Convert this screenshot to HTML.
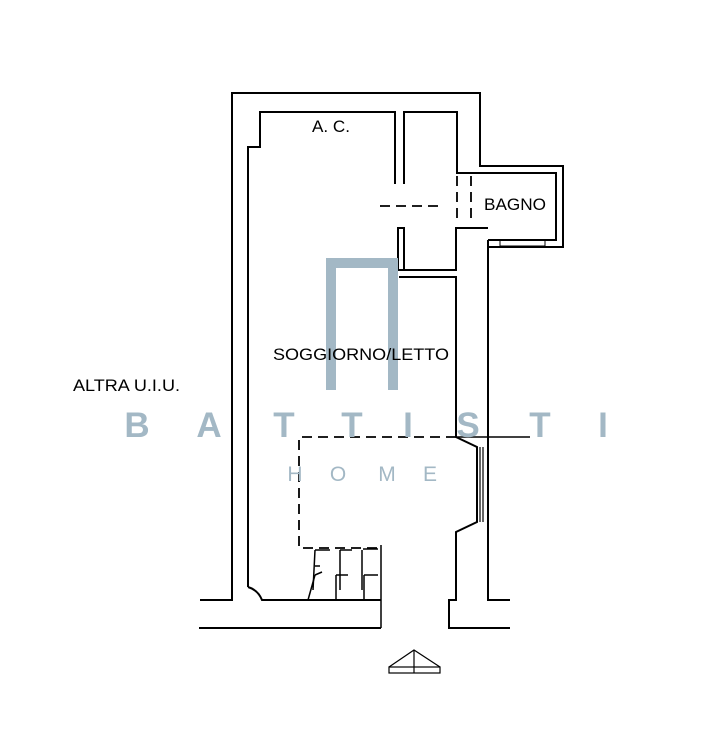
<!DOCTYPE html>
<html><head><meta charset="utf-8"><style>
html,body{margin:0;padding:0;background:#fff;width:722px;height:738px;overflow:hidden}
svg{display:block}
text{font-family:"Liberation Sans",sans-serif}
</style></head><body>
<svg width="722" height="738" viewBox="0 0 722 738" xmlns="http://www.w3.org/2000/svg">
<g fill="none" stroke="#000" stroke-width="2">
<polyline points="200,600 232,600 232,93 480,93 480,166 563,166 563,247 488,247 488,600 510,600"/>
<polyline points="395,184 395,112 260,112 260,147 248,147 248,587"/>
<path d="M248,587 Q258,590 262,600 L381,600"/>
<polyline points="404,184 404,112 457,112 457,173 556,173 556,240 488,240"/>
<polyline points="488,228 456,228 456,270 398,270 398,228 404,228 404,270"/>
<polyline points="399,277 456,277 456,437 477,447 477,522 456,532 456,600 449,600 449,628 510,628"/>
<line x1="480" y1="447" x2="480" y2="522" stroke-width="1.2"/>
<line x1="483" y1="447" x2="483" y2="522" stroke-width="1.2"/>
<line x1="488" y1="240" x2="488" y2="248"/>
<line x1="456" y1="437" x2="530" y2="437" stroke-width="1.5"/>
<line x1="199" y1="628" x2="381" y2="628"/>
<line x1="381" y1="545" x2="381" y2="628" stroke-width="1.5"/>
<rect x="500" y="240" width="45" height="6" stroke-width="1"/>
<g stroke-dasharray="10,6" stroke-width="1.8">
<line x1="380" y1="206" x2="440" y2="206"/>
<line x1="457" y1="176" x2="457" y2="224"/>
<line x1="471" y1="176" x2="471" y2="224"/>
<polyline points="456,437 299,437 299,548 381,548"/>
</g>
<g stroke-width="1.5">
<polyline points="313,590 315,550"/>
<polyline points="340,590 340,550"/>
<polyline points="362,590 362,550"/>
<polyline points="315,566 320,566"/>
<line x1="308" y1="600" x2="315" y2="575"/>
<line x1="315" y1="575" x2="322" y2="572"/>
<line x1="336" y1="600" x2="336" y2="575"/>
<line x1="336" y1="575" x2="348" y2="575"/>
<line x1="364" y1="600" x2="364" y2="575"/>
<line x1="364" y1="575" x2="378" y2="575"/>
<line x1="363" y1="549" x2="378" y2="549"/>
<line x1="340" y1="550" x2="352" y2="550"/>
<line x1="315" y1="550" x2="330" y2="550"/>
</g>
<g stroke-width="1.2">
<polyline points="389,667 414,650 440,667"/>
<line x1="414" y1="650" x2="414" y2="673"/>
<rect x="389" y="667" width="51" height="6"/>
</g>
</g>
<g fill="none" stroke="#a3b8c5" stroke-width="10">
<polyline points="331,390 331,263 393,263 393,390"/>
</g>
<g fill="#a3b8c5" font-size="35" font-weight="bold" text-anchor="middle">
<text x="137" y="437">B</text><text x="209" y="437">A</text><text x="284" y="437">T</text><text x="352" y="437">T</text><text x="408" y="437">I</text><text x="468" y="437">S</text><text x="540" y="437">T</text><text x="603" y="437">I</text>
</g>
<g fill="#a3b8c5" font-size="21" text-anchor="middle">
<text x="295" y="481">H</text><text x="338" y="481">O</text><text x="387" y="481">M</text><text x="430" y="481">E</text>
</g>
<g fill="#000" font-size="17">
<text x="312" y="132" textLength="38" lengthAdjust="spacingAndGlyphs">A. C.</text>
<text x="484" y="210" textLength="62" lengthAdjust="spacingAndGlyphs">BAGNO</text>
<text x="273" y="360" textLength="176" lengthAdjust="spacingAndGlyphs">SOGGIORNO/LETTO</text>
<text x="73" y="391" textLength="107" lengthAdjust="spacingAndGlyphs">ALTRA U.I.U.</text>
</g>
</svg>
</body></html>
